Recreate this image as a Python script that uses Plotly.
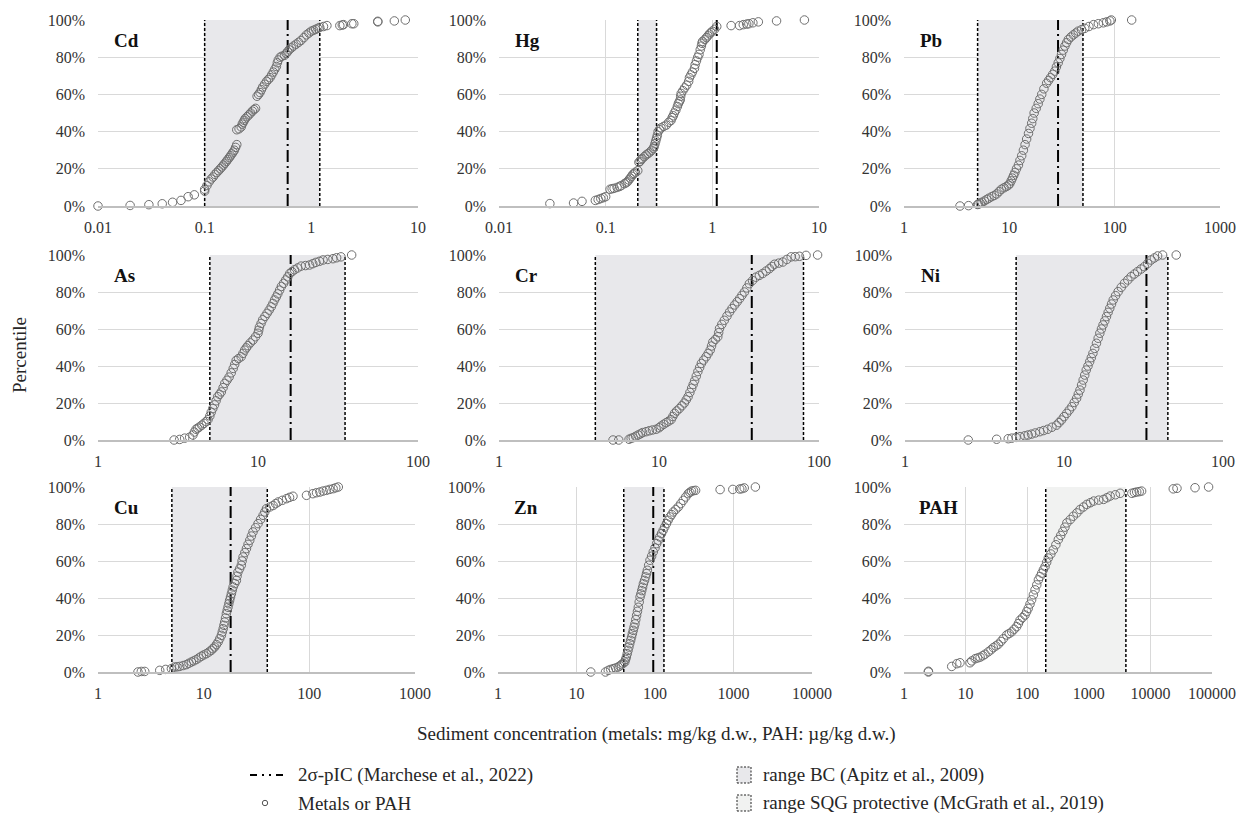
import math
import plotly.graph_objects as go

FONT = "Liberation Serif, Times New Roman, serif"

panel_names = ["Cd", "Hg", "Pb", "As", "Cr", "Ni", "Cu", "Zn", "PAH"]

# (concentration, percentile %)
cd_points = [(0.01,0),(0.02,0.3),(0.03,0.7),(0.04,1.2),(0.05,2),(0.06,3),(0.07,5),(0.08,6),(0.1,8),(0.1,9),
    (0.105,11),(0.11,13),(0.115,14.5),(0.12,15.6),(0.125,17),(0.13,18),(0.135,19),(0.14,20),(0.145,21),(0.15,22),
    (0.155,23),(0.16,24),(0.165,25),(0.17,26),(0.175,27),(0.18,28),(0.185,29),(0.19,30),(0.195,31.5),(0.2,33),
    (0.2,41),(0.21,41.5),(0.22,42.5),(0.225,44),(0.23,45),(0.235,46),(0.24,47),(0.25,48),(0.26,49),(0.27,50),
    (0.28,51),(0.29,51.8),(0.3,52.5),(0.31,59),(0.32,60),(0.33,61),(0.34,62.5),(0.35,64),(0.365,65.5),(0.38,67),
    (0.395,68),(0.41,69),(0.425,70.5),(0.44,72),(0.455,73.5),(0.47,75),(0.48,77),(0.49,78.5),(0.51,80),(0.53,80.5),
    (0.56,81),(0.58,82),(0.6,83),(0.62,84),(0.65,85),(0.68,86),(0.72,87),(0.76,88),(0.8,89),(0.85,90.5),
    (0.9,92),(0.95,93),(1.0,94),(1.05,94.5),(1.1,95),(1.15,95.5),(1.2,96),(1.3,96.5),(1.4,97),(1.85,97),
    (1.95,97.3),(2.0,97.5),(2.4,98),(2.5,98),(4.2,99),(4.2,99.3),(6.0,99.5),(7.6,100)]

hg_points = [(0.03,1.3),(0.05,1.6),(0.06,2.5),(0.08,3),(0.085,3.5),(0.09,4),(0.095,4.5),(0.1,5),(0.11,9),(0.115,9.3),
    (0.12,9.5),(0.128,10),(0.135,10.5),(0.14,11),(0.15,12),(0.155,12.5),(0.16,13),(0.165,14),(0.17,15),(0.175,16),
    (0.18,17),(0.185,17.5),(0.19,18.2),(0.2,19),(0.205,23.5),(0.21,24),(0.215,25),(0.22,25.5),(0.23,26.5),(0.24,27.5),
    (0.25,28.2),(0.26,29),(0.27,30),(0.28,31),(0.285,32),(0.29,33.5),(0.295,35),(0.3,36.5),(0.305,38),(0.31,40),
    (0.32,41),(0.33,42),(0.35,42.8),(0.37,43.5),(0.39,45),(0.41,46),(0.42,47.5),(0.43,48.5),(0.44,50),(0.455,51.5),
    (0.47,53.5),(0.48,55),(0.49,56),(0.5,57),(0.505,59),(0.51,60.5),(0.53,62),(0.55,63.5),(0.575,65),(0.6,67),
    (0.61,69),(0.63,70.5),(0.65,72),(0.68,74),(0.69,76),(0.71,78),(0.73,80),(0.75,81.5),(0.77,84),(0.79,86),
    (0.8,87.5),(0.81,88.5),(0.85,89.5),(0.88,90.5),(0.91,91.5),(0.94,92.5),(0.97,93.2),(1.0,94),(1.05,95),(1.1,96.5),
    (1.5,97),(1.8,97),(1.95,97.5),(2.1,97.8),(2.2,98),(2.4,98.5),(2.7,99),(4.0,99.5),(7.3,100)]

pb_points = [(3.4,0),(4.1,0.2),(5.0,0.8),(5.1,1),(5.3,1.5),(5.5,2),(5.8,2.7),(6.1,3.5),(6.4,4.2),(6.8,5),
    (7.2,5.7),(7.6,6.5),(8.0,7.8),(8.4,9),(8.9,9.8),(9.4,10.5),(9.8,11.2),(10.1,12),(10.4,13.5),(10.7,15),
    (11.0,16.5),(11.3,18),(11.7,20),(12.2,22),(12.6,24.5),(13.1,27),(13.6,30),(14.1,33),(14.6,36),(15.2,39),
    (15.7,41.7),(16.3,44.5),(16.7,47),(17.2,50),(18.0,52.5),(18.8,55),(19.5,57.5),(20.3,60),(21.3,63),(22.6,66),
    (23.6,67.5),(24.6,69),(25.8,70.8),(27.0,72.5),(28.0,74.8),(29.1,77),(30.2,79.3),(31.3,81.5),(32.5,83.8),(33.7,86),
    (35.0,87.8),(36.3,89.5),(38.3,90.8),(40.5,92),(42.7,93),(45.0,94),(48.5,94.8),(52.0,95.5),(57.0,96.5),(63.0,97.5),
    (70.0,98),(78.0,98.5),(84.0,99),(90.0,99.5),(93.0,100),(145,100)]

as_points = [(2.99,0),(3.24,0.3),(3.48,1),(3.74,1.5),(3.92,2.7),(4.0,4.3),(4.1,5.8),(4.2,6.4),(4.3,7),(4.45,8),
    (4.6,9),(4.75,10),(4.87,11),(5.0,13),(5.1,15),(5.22,17),(5.35,19),(5.47,21.2),(5.6,23.4),(5.75,24.7),
    (5.9,26),(6.05,28.3),(6.2,30.6),(6.4,32.3),(6.6,34),(6.8,36.3),(7.0,38.7),(7.15,40.8),(7.3,43),(7.55,44),
    (7.85,45),(8.05,46.8),(8.25,48.6),(8.45,49.8),(8.65,51),(8.95,52.5),(9.3,54),(9.65,55.8),(10.0,57.7),(10.1,59.3),
    (10.2,61),(10.45,63),(10.7,65),(11.05,66.8),(11.4,68.5),(11.75,70.2),(12.1,72),(12.4,73.8),(12.7,75.7),(13.0,77.3),
    (13.3,79),(13.65,81),(14.0,83),(14.45,84.7),(14.9,86.5),(15.35,88.2),(15.8,90),(16.3,91),(16.9,92),(17.7,93),
    (18.6,94),(19.8,94.3),(21.0,94.6),(22.0,95.3),(23.0,96),(24.2,96.6),(25.5,97.3),(27.3,97.6),(29.4,98),(31.0,98.5),
    (33.0,99),(38.5,100)]

cr_points = [(5.16,0),(5.6,0),(6.5,0.4),(6.7,0.9),(6.9,1.3),(7.15,2),(7.4,2.7),(7.65,3.3),(7.9,4),(8.3,4.5),
    (8.7,5),(9.1,5.4),(9.6,5.8),(10.0,6.6),(10.3,7.5),(10.7,8.5),(11.1,9.4),(11.5,10.2),(11.9,11),(12.2,12.7),
    (12.5,14.4),(12.9,15.7),(13.4,17),(13.9,18.5),(14.4,20),(14.8,21.7),(15.2,23.4),(15.6,25.7),(16.0,28),(16.35,30),
    (16.7,32),(17.1,34.5),(17.5,37),(17.95,39.2),(18.4,41.4),(19.0,43.2),(19.7,45),(20.3,46.8),(20.9,48.6),(21.3,50.8),
    (21.7,53),(22.5,54.4),(23.3,55.8),(23.6,58),(23.9,60.3),(24.7,62.5),(25.6,64.7),(26.6,67),(27.6,69.2),(28.6,71.1),
    (29.7,73),(30.8,74.7),(31.9,76.4),(33.0,78.2),(34.2,80),(35.4,82.2),(36.7,84.5),(38.4,86.2),(40.3,88),(42.4,89),
    (44.5,90),(46.7,91.3),(49.0,92.6),(50.8,93.8),(52.7,95),(56.0,95.6),(59.4,96.2),(63.0,97.6),(67.0,99),(71.0,99.1),
    (75.5,99.3),(83.0,99.8),(98.0,100)]

ni_points = [(2.5,0),(3.77,0.4),(4.46,0.7),(4.7,1),(5.0,1.4),(5.3,1.8),(5.67,2.3),(5.95,2.7),(6.25,3.2),(6.6,3.8),
    (7.05,4.5),(7.45,5.1),(7.9,5.8),(8.4,6.9),(8.97,8),(9.3,9.4),(9.64,10.8),(10.0,12.6),(10.4,14.4),(10.8,16.2),
    (11.2,18),(11.6,20.3),(12.0,22.5),(12.3,24.8),(12.6,27),(12.9,29.7),(13.2,32.4),(13.5,35.1),(13.8,37.8),(14.15,40),
    (14.5,42.3),(14.85,44.5),(15.2,46.8),(15.6,49.5),(16.0,52.3),(16.4,55),(16.8,57.7),(17.2,60),(17.6,62.2),(18.05,64.4),
    (18.5,66.7),(18.95,69),(19.4,71.2),(19.9,73.5),(20.4,75.7),(21.1,78),(21.9,80.2),(22.9,82.5),(24.0,84.7),(25.2,86.5),
    (26.4,88.3),(27.7,89.7),(29.0,91),(30.5,92.4),(32.0,93.7),(33.6,95.5),(35.3,97.3),(37.0,98.4),(38.8,99.5),(41.7,100),
    (50.8,100)]

cu_points = [(2.39,0),(2.57,0.3),(2.77,0.3),(3.84,0.9),(4.37,1.4),(4.95,1.8),(5.3,2.7),(5.6,2.8),(5.93,3),(6.4,3.5),
    (6.87,4),(7.25,4.7),(7.65,5.4),(8.05,6),(8.5,6.7),(9.0,7.6),(9.5,8.5),(10.0,9.2),(10.6,9.9),(11.2,10.8),
    (11.8,11.7),(12.2,12.6),(12.7,13.5),(13.2,14.8),(13.7,16.2),(14.2,18),(14.7,19.8),(15.0,21.6),(15.3,23.4),(15.55,25.2),
    (15.8,27),(16.1,29.2),(16.4,31.5),(16.7,33.3),(17.0,35),(17.3,36.9),(17.6,38.7),(17.95,40.5),(18.3,42.3),(18.65,44.2),
    (19.0,46),(19.7,47.8),(20.4,49.5),(20.7,51.8),(21.1,54),(21.9,55.8),(22.7,57.7),(23.1,60),(23.6,62.2),(24.5,64.5),
    (25.4,66.7),(26.3,69),(27.3,71.2),(28.3,73.5),(29.3,75.7),(31.0,78),(32.7,80.2),(34.6,82.5),(36.5,84.7),(37.9,86.5),
    (39.3,88.3),(42.3,89.2),(45.4,90),(48.0,91),(50.8,91.9),(55.5,92.8),(60.9,93.7),(65.0,94.4),(70.0,95),(94.0,95.5),
    (108,96.4),(117,96.9),(126,97.3),(135,97.8),(145,98.2),(156,98.7),(168,99.1),(178,99.6),(188,100)]

zn_points = [(15.2,0),(23.4,0),(25.4,0.9),(27.3,1.4),(29.4,1.8),(31.6,2.2),(34.0,2.7),(35.7,3.3),(37.4,4),(39.3,4.7),
    (41.2,5.4),(42.2,6.8),(43.2,8.1),(44.3,9.9),(45.4,11.7),(46.5,13.5),(47.7,15.3),(49.0,17.1),(50.3,18.9),(51.5,20.7),
    (52.8,22.5),(54.1,24.2),(55.5,26),(56.9,28.3),(58.3,30.6),(59.8,32.8),(61.3,35),(62.9,37.8),(64.5,40.5),(66.1,42.2),
    (67.8,44),(69.5,45.8),(71.2,47.7),(73.6,49.5),(76.0,51.4),(78.0,53.2),(79.9,55),(83.0,57.7),(86.3,60.4),(90.5,62.6),
    (95.0,64.9),(100,67.1),(105,69.4),(110,71.2),(115,73),(121,74.8),(127,76.6),(133,78.4),(140,80.2),(147,82),
    (155,83.8),(163,85.1),(171,86.5),(184,87.8),(198,89.2),(213,91),(229,92.8),(246,94.6),(265,96.4),(278,97.1),
    (292,97.8),(310,98),(329,98.2),(675,98.6),(980,98.7),(1200,98.9),(1280,99.1),(1370,99.5),(1900,100)]

pah_points = [(2.49,0),(2.49,0.4),(5.95,3),(7.2,4.5),(8.1,5),(11.8,5),(12.6,6),(14.3,7.2),(15.7,7.6),(17.2,8),
    (19.0,8.8),(20.7,9.6),(23.4,10.9),(25.8,12),(28.2,13.2),(31.0,14.1),(34.0,15),(37.5,16.5),(41.0,18),(46.5,20),
    (51.0,20.8),(56.0,21.7),(61.5,23.1),(67.5,24.5),(72.0,26.2),(76.5,28),(84.0,29.4),(92.0,30.8),(98.0,32.6),(104,34.4),
    (111,36.7),(118,39),(126,41.7),(134,44.4),(143,47.1),(152,49.8),(162,51.6),(172,53.4),(183,55.2),(195,57),
    (207,59.3),(220,61.6),(242,63.8),(265,66),(292,68.8),(320,71.6),(350,73.8),(380,76),(410,78.3),(440,80.6),
    (500,82.4),(560,84.2),(640,86),(720,87.8),(820,89.2),(930,90.6),(1060,91.5),(1200,92.4),(1450,92.9),(1740,93.3),
    (1970,94.2),(2220,95.1),(2700,95.8),(3230,96.6),(5000,96.6),(5500,97),(6000,97.3),(6600,97.5),(7200,97.8),(23500,99),
    (27000,99.3),(53000,99.6),(88000,100)]

panel_points = {"Cd": cd_points, "Hg": hg_points, "Pb": pb_points, "As": as_points, "Cr": cr_points,
                "Ni": ni_points, "Cu": cu_points, "Zn": zn_points, "PAH": pah_points}

x_ranges = {"Cd": (0.01, 10), "Hg": (0.01, 10), "Pb": (1, 1000), "As": (1, 100), "Cr": (1, 100),
            "Ni": (1, 100), "Cu": (1, 1000), "Zn": (1, 10000), "PAH": (1, 100000)}

x_tick_labels = {
    "Cd": ["0.01", "0.1", "1", "10"],
    "Hg": ["0.01", "0.1", "1", "10"],
    "Pb": ["1", "10", "100", "1000"],
    "As": ["1", "10", "100"],
    "Cr": ["1", "10", "100"],
    "Ni": ["1", "10", "100"],
    "Cu": ["1", "10", "100", "1000"],
    "Zn": ["1", "10", "100", "1000", "10000"],
    "PAH": ["1", "10", "100", "1000", "10000", "100000"],
}

y_ticks = [0, 20, 40, 60, 80, 100]
y_tick_labels = ["0%", "20%", "40%", "60%", "80%", "100%"]

bc_range = {"Cd": (0.1, 1.2), "Hg": (0.2, 0.3), "Pb": (5, 50), "As": (5, 35), "Cr": (4, 80),
            "Ni": (5, 45), "Cu": (5, 40), "Zn": (40, 130)}
sqg_range = {"PAH": (200, 4000)}
pic_value = {"Cd": 0.6, "Hg": 1.1, "Pb": 29, "As": 16, "Cr": 38, "Ni": 33, "Cu": 18, "Zn": 95}

legend_labels = ["2σ-pIC (Marchese et al., 2022)", "Metals or PAH",
                 "range BC (Apitz et al., 2009)", "range SQG protective (McGrath et al., 2019)"]

# ---------------- layout geometry (pixels) ----------------
W, H = 1239, 820
px_x = {"Cd": (98, 418), "Hg": (499, 819), "Pb": (904, 1220),
        "As": (98, 418), "Cr": (499, 819), "Ni": (905, 1223),
        "Cu": (98, 415), "Zn": (498, 812), "PAH": (904, 1212)}
px_y = {"Cd": (20, 206), "Hg": (20, 206), "Pb": (20, 206),
        "As": (255, 440), "Cr": (255, 440), "Ni": (255, 440),
        "Cu": (487, 672), "Zn": (487, 672), "PAH": (487, 672)}

BC_FILL = "#e8e8eb"
SQG_FILL = "#f1f2f1"
GRID = "#d9d9d9"
TICK_COLOR = "#333333"
TEXT_COLOR = "#262626"
PIC_DASH = "12px,4px,2px,4px"
BOUND_DASH = "3px,2px"

fig = go.Figure()
layout_axes = {}
annotations = []

for i, name in enumerate(panel_names):
    k = i + 1
    xa = "x" if k == 1 else f"x{k}"
    ya = "y" if k == 1 else f"y{k}"
    common = dict(xaxis=xa, yaxis=ya, showlegend=False, hoverinfo="skip")

    if name in bc_range:
        a, b = bc_range[name]
        fillc = BC_FILL
    else:
        a, b = sqg_range[name]
        fillc = SQG_FILL
    fig.add_trace(go.Scatter(x=[a, a, b, b, a], y=[0, 100, 100, 0, 0], fill="toself",
                             fillcolor=fillc, mode="lines", line=dict(width=0), **common))
    for v in (a, b):
        fig.add_trace(go.Scatter(x=[v, v], y=[0, 100], mode="lines",
                                 line=dict(color="black", width=1.5, dash=BOUND_DASH), **common))
    if name in pic_value:
        v = pic_value[name]
        fig.add_trace(go.Scatter(x=[v, v], y=[0, 100], mode="lines",
                                 line=dict(color="black", width=2, dash=PIC_DASH), **common))

    pts = panel_points[name]
    fig.add_trace(go.Scatter(x=[p[0] for p in pts], y=[p[1] for p in pts], mode="markers",
                             marker=dict(symbol="circle-open", size=8.5, color="#6f6f6f",
                                         line=dict(width=1)),
                             cliponaxis=False, **common))

    lo, hi = x_ranges[name]
    labels = x_tick_labels[name]
    x0, x1 = px_x[name]
    y0, y1 = px_y[name]
    layout_axes["xaxis" if k == 1 else f"xaxis{k}"] = dict(
        type="log", range=[math.log10(lo), math.log10(hi)], domain=[x0 / W, x1 / W],
        anchor=ya, tickvals=[float(t) for t in labels], ticktext=labels, automargin=False,
        showgrid=True, gridcolor=GRID, gridwidth=1, zeroline=False,
        showline=True, linecolor="#bfbfbf", linewidth=1.5, ticks="",
        ticklabelstandoff=6,
        tickfont=dict(family=FONT, size=16, color=TICK_COLOR), fixedrange=True)
    layout_axes["yaxis" if k == 1 else f"yaxis{k}"] = dict(
        range=[0, 100], domain=[1 - y1 / H, 1 - y0 / H], anchor=xa, automargin=False,
        tickvals=y_ticks, ticktext=y_tick_labels, showgrid=True, gridcolor=GRID, gridwidth=1,
        zeroline=False, showline=False, ticks="", ticklabelstandoff=12,
        tickfont=dict(family=FONT, size=16, color=TICK_COLOR), fixedrange=True)

    annotations.append(dict(xref=f"{xa} domain", yref=f"{ya} domain", x=0.043, y=0.89,
                            text=f"<b>{name}</b>", showarrow=False, xanchor="left", yanchor="middle",
                            font=dict(family=FONT, size=19, color="#111111")))

# axis titles
annotations.append(dict(xref="paper", yref="paper", x=20 / W, y=1 - 355 / H, text="Percentile",
                        textangle=-90, showarrow=False, xanchor="center", yanchor="middle",
                        font=dict(family=FONT, size=19, color=TEXT_COLOR)))
annotations.append(dict(xref="paper", yref="paper", x=656 / W, y=1 - 734 / H,
                        text="Sediment concentration (metals: mg/kg d.w., PAH: µg/kg d.w.)",
                        showarrow=False, xanchor="center", yanchor="middle",
                        font=dict(family=FONT, size=19, color=TEXT_COLOR)))

# manual legend
shapes = []
row1, row2 = 775, 803
shapes.append(dict(type="line", xref="paper", yref="paper", x0=250 / W, x1=285 / W,
                   y0=1 - row1 / H, y1=1 - row1 / H,
                   line=dict(color="black", width=2, dash="7px,5px,2px,5px,2px,5px")))
shapes.append(dict(type="circle", xref="paper", yref="paper", x0=262.3 / W, x1=267.7 / W,
                   y0=1 - (row2 + 2.7) / H, y1=1 - (row2 - 2.7) / H,
                   line=dict(color="#555555", width=1)))
for row, fillc in ((row1, BC_FILL), (row2, SQG_FILL)):
    shapes.append(dict(type="rect", xref="paper", yref="paper", x0=737 / W, x1=751 / W,
                       y0=1 - (row + 8) / H, y1=1 - (row - 8) / H, fillcolor=fillc,
                       line=dict(color="#222222", width=1, dash="2px,1.5px")))
legend_pos = [(296, row1), (296, row2), (761, row1), (761, row2)]
for text, (lx, ly) in zip(legend_labels, legend_pos):
    annotations.append(dict(xref="paper", yref="paper", x=lx / W, y=1 - ly / H, text=text,
                            showarrow=False, xanchor="left", yanchor="middle",
                            font=dict(family=FONT, size=19, color=TEXT_COLOR)))

fig.update_layout(width=W, height=H, autosize=False, margin=dict(l=0, r=0, t=0, b=0),
                  font=dict(family=FONT, color=TEXT_COLOR),
                  paper_bgcolor="white", plot_bgcolor="white", showlegend=False,
                  annotations=annotations, shapes=shapes, **layout_axes)

fig.write_html("out.html")
